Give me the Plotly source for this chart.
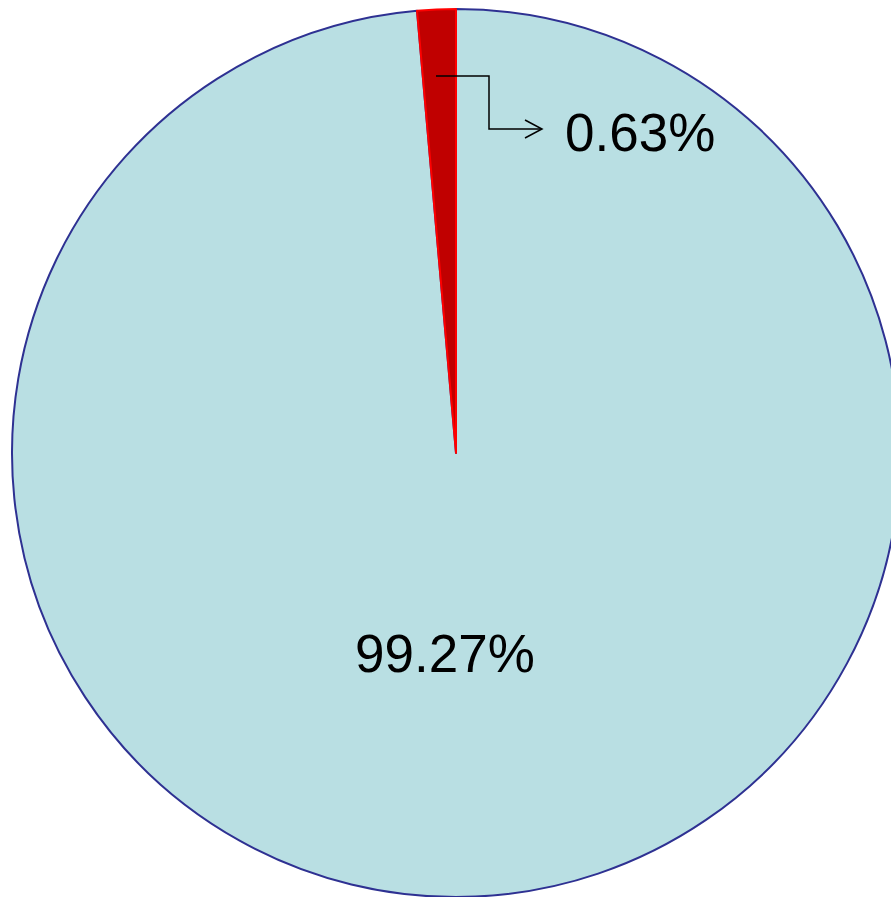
import plotly.graph_objects as go

W, H = 900, 897

# Data (slice sizes; label texts as printed)
categories = ["Other", "Highlighted"]
slice_values = [98.6, 1.4]
label_texts = ["99.27%", "0.63%"]
fill_colors = ["#B9DFE3", "#C00000"]
edge_colors = ["#2E3192", "#FF0000"]

def px(x):
    return x / W

def py(y):
    return 1 - y / H

fig = go.Figure()
fig.add_trace(go.Pie(
    labels=categories,
    values=slice_values,
    sort=False,
    direction="clockwise",
    rotation=0,
    textinfo="none",
    hoverinfo="label+percent",
    marker=dict(colors=fill_colors, line=dict(color=edge_colors, width=2)),
    domain=dict(x=[12 / W, 1.0], y=[0.0, 1 - 9 / H]),
    showlegend=False,
))

font = dict(family="Liberation Sans, Arial, sans-serif", size=53, color="black")

fig.add_annotation(x=px(445), y=py(653), xref="paper", yref="paper",
                   text=label_texts[0], showarrow=False, font=font,
                   xanchor="center", yanchor="middle")
fig.add_annotation(x=px(563), y=py(132), xref="paper", yref="paper",
                   text=label_texts[1], showarrow=False, font=font,
                   xanchor="left", yanchor="middle")

# elbow leader line
fig.add_shape(type="path", xref="paper", yref="paper",
              path=f"M {px(436)} {py(76)} L {px(489)} {py(76)} L {px(489)} {py(129)} L {px(541)} {py(129)}",
              line=dict(color="black", width=1.5))
# open arrowhead
fig.add_shape(type="path", xref="paper", yref="paper",
              path=f"M {px(525)} {py(120)} L {px(542)} {py(129)} L {px(525)} {py(138)}",
              line=dict(color="black", width=1.5))

fig.update_layout(width=W, height=H, margin=dict(l=0, r=0, t=0, b=0),
                  paper_bgcolor="white", plot_bgcolor="white")

fig.write_html("out.html", config={"displayModeBar": False},
               post_script="document.body.style.margin='0';document.body.style.overflow='hidden';")
